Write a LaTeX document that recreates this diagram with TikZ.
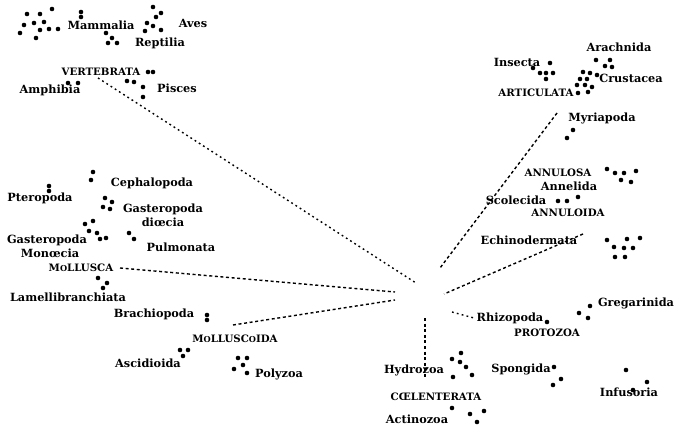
\documentclass[tikz,border=0pt]{standalone}
\usepackage{fontspec}
\setmainfont{DejaVu Serif}
\begin{document}
\begin{tikzpicture}[x=1pt,y=-1pt,
  nm/.style={inner sep=0pt,font=\fontsize{11.3}{12}\selectfont\bfseries},
  grp/.style={inner sep=0pt,font=\fontsize{10.2}{11}\selectfont\bfseries},
  dt/.style={fill=black,circle,inner sep=0pt,minimum size=4.6pt},
  link/.style={line width=1.4pt,dash pattern=on 3pt off 2.6pt},
  dotlink/.style={line width=1.4pt,dash pattern=on 1.8pt off 3.2pt}]
\newcommand{\smo}{{\fontsize{8.2}{9}\selectfont O}}
\useasboundingbox (0,0) rectangle (683,428);
% labels
\node[nm] (mam) at (101,25) {Mammalia};
\node[nm] (aves) at (193,23) {Aves};
\node[nm] (rep) at (160,43) {Reptilia};
\node[grp] (vert) at (101,72) {VERTEBRATA};
\node[nm] (amph) at (50,90) {Amphibia};
\node[nm] (pisc) at (177,88) {Pisces};
\node[nm] (ins) at (517,62) {Insecta};
\node[nm] (arach) at (619,47) {Arachnida};
\node[nm] (crus) at (631,78) {Crustacea};
\node[grp] (artic) at (536,93) {ARTICULATA};
\node[nm] (myr) at (602,118) {Myriapoda};
\node[grp] (annul) at (558,173) {ANNULOSA};
\node[nm] (anne) at (569,186) {Annelida};
\node[nm] (scol) at (516,200) {Scolecida};
\node[grp] (annoi) at (568,213) {ANNULOIDA};
\node[nm] (echi) at (529,240) {Echinodermata};
\node[nm] (greg) at (636,303) {Gregarinida};
\node[nm] (rhiz) at (510,318) {Rhizopoda};
\node[grp] (proto) at (547,333) {PROTOZOA};
\node[nm] (spong) at (521,369) {Spongida};
\node[nm] (infu) at (629,392) {Infusoria};
\node[nm] (hydr) at (414,370) {Hydrozoa};
\node[grp] (coel) at (436,397) {C\OE LENTERATA};
\node[nm] (actin) at (417,419) {Actinozoa};
\node[nm] (polyz) at (279,374) {Polyzoa};
\node[nm] (ascid) at (148,363) {Ascidioida};
\node[grp] (mcoid) at (235,339) {M\smo LLUSC\smo IDA};
\node[nm] (brach) at (154,314) {Brachiopoda};
\node[nm] (lamel) at (68,297) {Lamellibranchiata};
\node[grp] (moll) at (81,268) {M\smo LLUSCA};
\node[nm] (gmon1) at (47,240) {Gasteropoda};
\node[nm] (gmon2) at (50,253) {Mon\oe cia};
\node[nm] (pulm) at (181,247) {Pulmonata};
\node[nm] (gdio1) at (163,209) {Gasteropoda};
\node[nm] (gdio2) at (163,222) {di\oe cia};
\node[nm] (ceph) at (152,183) {Cephalopoda};
\node[nm] (ptero) at (40,198) {Pteropoda};
% connector ends
\coordinate (v0) at (98,78);   \coordinate (v1) at (416,283);
\coordinate (m0) at (120,268); \coordinate (m1) at (395,292);
\coordinate (mc0) at (233,325); \coordinate (mc1) at (395,300);
\coordinate (a0) at (557,113); \coordinate (a1) at (440,268);
\coordinate (e0) at (583,234); \coordinate (e1) at (444,294);
\coordinate (p0) at (452,312); \coordinate (p1) at (474,318);
\coordinate (h0) at (425,318); \coordinate (h1) at (425,378);
\draw[dotlink] (v0) -- (v1);
\draw[link] (m0) -- (m1);
\draw[link] (mc0) -- (mc1);
\draw[link] (a0) -- (a1);
\draw[link] (e0) -- (e1);
\draw[dotlink] (p0) -- (p1);
\draw[link] (h0) -- (h1);
% dots
\foreach \p in {
 (27,14),(40,14),(52,9),(24,25),(34,23),(44,22),(40,30),(49,29),(58,29),(20,33),(36,38),(81,12),(81,17),
 (106,33),(112,38),(117,43),(108,43),
 (153,7),(161,13),(156,17),(147,23),(153,26),(145,31),(161,30),
 (148,72),(153,72),(68,83),(78,83),
 (127,81),(134,82),(143,87),(143,97),
 (550,63),(533,68),(540,73),(546,73),(553,73),(546,79),
 (596,60),(605,66),(610,60),(612,67),
 (583,72),(590,73),(580,79),(587,79),(597,75),(577,85),(585,85),(592,87),(588,92),(578,93),
 (573,130),(567,138),
 (93,172),(91,180),(49,186),(49,191),
 (105,198),(112,202),(103,207),(110,209),
 (85,224),(93,221),(89,231),(97,233),(100,239),(106,238),
 (129,233),(134,239),
 (98,278),(107,283),(103,288),
 (607,169),(615,173),(624,173),(636,171),(621,180),(631,182),
 (558,201),(567,201),(578,197),
 (607,240),(627,239),(640,238),(614,247),(624,248),(633,248),(615,257),(625,257),
 (207,315),(207,320),
 (180,350),(188,350),(183,356),
 (238,358),(247,358),(243,365),(234,369),(247,373),
 (590,306),(579,313),(588,318),
 (547,322),
 (461,353),(452,359),(460,362),(466,367),(472,375),(453,377),
 (554,367),(561,379),(553,385),
 (626,370),(647,382),(633,390),
 (452,408),(470,414),(484,411),(477,422)}
 \node[dt] at \p {};
\end{tikzpicture}
\end{document}
